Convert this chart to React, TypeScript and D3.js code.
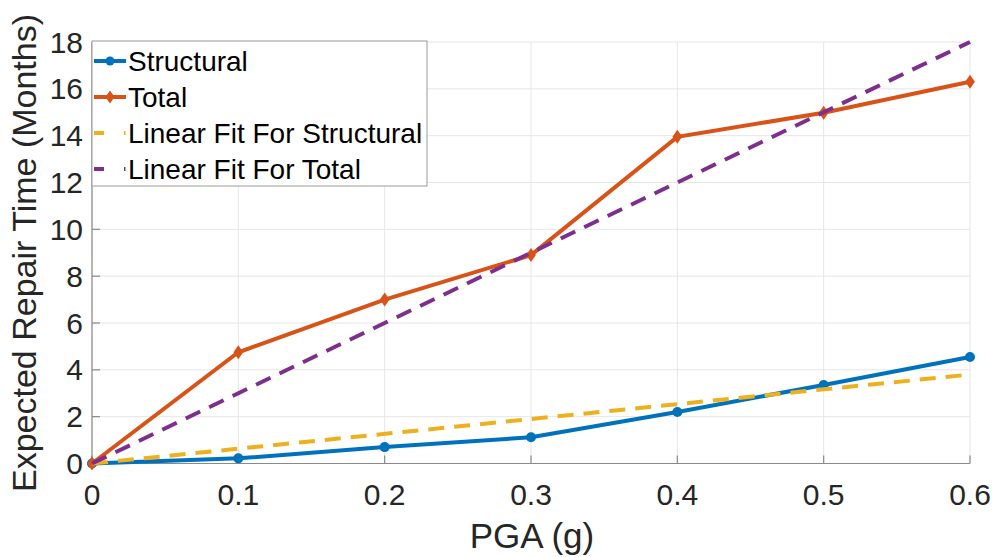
import React from "react";
import * as d3 from "d3";

const pga = [0, 0.1, 0.2, 0.3, 0.4, 0.5, 0.6];
const structural = [0, 0.22, 0.7, 1.12, 2.2, 3.35, 4.55];
const total = [0, 4.75, 7.0, 8.9, 13.95, 14.98, 16.3];
const fitStructural = [0, 3.8];
const fitTotal = [0, 18];
const fitX = [0, 0.6];
const xTicks = [0, 0.1, 0.2, 0.3, 0.4, 0.5, 0.6];
const yTicks = [0, 2, 4, 6, 8, 10, 12, 14, 16, 18];

const W = 992, H = 557;
const FONT = "'Liberation Sans', Arial, Helvetica, sans-serif";
const BLUE = "#0072BD", ORANGE = "#D95319", YELLOW = "#EDB120", PURPLE = "#7E2F8E";

export default function App() {
  const x = d3.scaleLinear().domain([0, 0.6]).range([92, 970]);
  const y = d3.scaleLinear().domain([0, 18]).range([463.5, 42]);
  const line = d3.line<[number, number]>().x(d => x(d[0])).y(d => y(d[1]));
  const sPts = pga.map((p, i) => [p, structural[i]] as [number, number]);
  const tPts = pga.map((p, i) => [p, total[i]] as [number, number]);
  const fs = fitX.map((p, i) => [p, fitStructural[i]] as [number, number]);
  const ft = fitX.map((p, i) => [p, fitTotal[i]] as [number, number]);
  const diamond = (cx: number, cy: number, r = 6) =>
    `M${cx},${cy - r}L${cx + r * 0.7},${cy}L${cx},${cy + r}L${cx - r * 0.7},${cy}Z`;
  const legend = [
    { label: "Structural", color: BLUE, kind: "circle" },
    { label: "Total", color: ORANGE, kind: "diamond" },
    { label: "Linear Fit For Structural", color: YELLOW, kind: "dash" },
    { label: "Linear Fit For Total", color: PURPLE, kind: "dash" },
  ];
  return (
    <svg width={W} height={H} style={{ position: "absolute", left: 0, top: 0, background: "#fff" }} fontFamily={FONT}>
      <rect width={W} height={H} fill="#fff" />
      {/* grid */}
      {xTicks.map(t => (
        <line key={"gx" + t} x1={x(t)} x2={x(t)} y1={y(18)} y2={y(0)} stroke="#e6e6e6" strokeWidth={1} />
      ))}
      {yTicks.map(t => (
        <line key={"gy" + t} x1={x(0)} x2={x(0.6)} y1={y(t)} y2={y(t)} stroke="#e6e6e6" strokeWidth={1} />
      ))}
      {/* axes */}
      <line x1={x(0)} x2={x(0.6)} y1={y(0)} y2={y(0)} stroke="#8a8a8a" strokeWidth={1.2} />
      <line x1={x(0)} x2={x(0)} y1={y(0)} y2={y(18)} stroke="#8a8a8a" strokeWidth={1.2} />
      {xTicks.map(t => (
        <g key={"xt" + t}>
          <line x1={x(t)} x2={x(t)} y1={y(0)} y2={y(0) - 8} stroke="#8a8a8a" strokeWidth={1.2} />
          <text x={x(t)} y={505} textAnchor="middle" fontSize={30} fill="#262626">{t === 0 ? "0" : t.toFixed(1)}</text>
        </g>
      ))}
      {yTicks.map(t => (
        <g key={"yt" + t}>
          <line x1={x(0)} x2={x(0) + 8} y1={y(t)} y2={y(t)} stroke="#8a8a8a" strokeWidth={1.2} />
          <text x={83} y={y(t) + 10.5} textAnchor="end" fontSize={30} fill="#262626">{t}</text>
        </g>
      ))}
      <text x={532} y={548} textAnchor="middle" fontSize={35} fill="#262626">PGA (g)</text>
      <text transform={`translate(36,253) rotate(-90)`} textAnchor="middle" fontSize={34} fill="#262626">
        Expected Repair Time (Months)
      </text>
      {/* lines */}
      <path d={line(sPts) || ""} fill="none" stroke={BLUE} strokeWidth={4} />
      {sPts.map((p, i) => (
        <circle key={"sc" + i} cx={x(p[0])} cy={y(p[1])} r={5} fill={BLUE} />
      ))}
      <path d={line(tPts) || ""} fill="none" stroke={ORANGE} strokeWidth={4} />
      {tPts.map((p, i) => (
        <path key={"td" + i} d={diamond(x(p[0]), y(p[1]), 7)} fill={ORANGE} />
      ))}
      <path d={line(fs) || ""} fill="none" stroke={YELLOW} strokeWidth={4} strokeDasharray="16 10" />
      <path d={line(ft) || ""} fill="none" stroke={PURPLE} strokeWidth={4} strokeDasharray="16 10" />
      {/* legend */}
      <rect x={92} y={41} width={335} height={145} fill="#fff" stroke="#9a9a9a" strokeWidth={1} />
      {legend.map((l, i) => {
        const cy = 61 + i * 36;
        return (
          <g key={l.label}>
            {l.kind === "dash" ? (
              <>
                <line x1={94} x2={104} y1={cy} y2={cy} stroke={l.color} strokeWidth={4} />
                <line x1={124} x2={125.5} y1={cy} y2={cy} stroke={l.color} strokeWidth={4} />
              </>
            ) : (
              <line x1={94} x2={126} y1={cy} y2={cy} stroke={l.color} strokeWidth={4} />
            )}
            {l.kind === "circle" && <circle cx={110} cy={cy} r={4.5} fill={l.color} />}
            {l.kind === "diamond" && <path d={diamond(110, cy, 6.5)} fill={l.color} />}
            <text x={128} y={cy + 10} fontSize={28} fill="#000">{l.label}</text>
          </g>
        );
      })}
    </svg>
  );
}
